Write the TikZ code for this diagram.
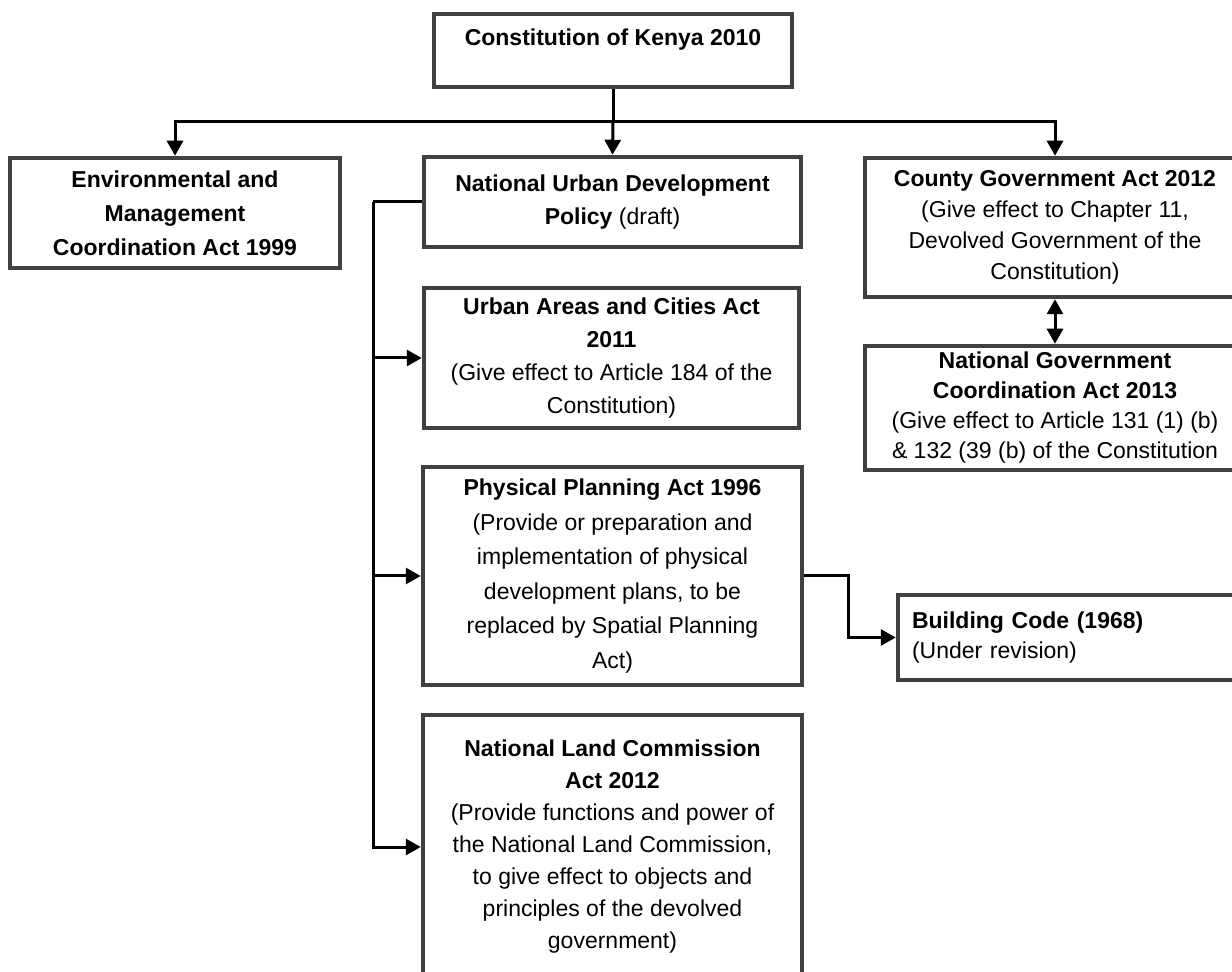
\documentclass[tikz,border=0pt]{standalone}
\usepackage{fontspec}
\setmainfont{Liberation Sans}
\usepackage{tikz}
\usetikzlibrary{arrows.meta, positioning}
\usepackage{xcolor}
\definecolor{boxgray}{RGB}{64,64,64}
\tikzstyle{act}   = [rectangle, draw=boxgray, line width=2.25pt, fill=white,
                     text centered, align=center, inner sep=2pt,
                     font=\fontsize{11.5}{16}\selectfont]
\tikzstyle{link}  = [line width=1.5pt, black]
\tikzstyle{arrow} = [line width=1.5pt, black, ->, >={Triangle[length=7.5pt,width=8pt]}]

\begin{document}
\begin{tikzpicture}[x=0.5pt, y=-0.5pt]
  \clip (0,0) rectangle (1232,972);
  \fill[white] (0,0) rectangle (1232,972);

  % top level
  \node (constitution) [act, minimum width=179pt, minimum height=36.5pt,
                   font=\fontsize{11.5}{13}\selectfont] at (613,50.5)
        {\textbf{Constitution of Kenya 2010}\\ \mbox{}};
  \node (ema)     [act, minimum width=165pt, minimum height=55pt,
                   font=\fontsize{11.5}{17}\selectfont] at (175,213)
        {\textbf{Environmental and}\\ \textbf{Management}\\ \textbf{Coordination Act 1999}};
  \node (nudp)    [act, minimum width=188.5pt, minimum height=45pt,
                   font=\fontsize{11.5}{16.5}\selectfont] at (612.5,202)
        {\textbf{National Urban Development}\\ \textbf{Policy} (draft)};
  \node (county)  [act, minimum width=190pt, minimum height=69.5pt,
                   font=\fontsize{11.5}{15.5}\selectfont] at (1055,227.5)
        {\textbf{County Government Act 2012}\\ (Give effect to Chapter 11,\\
         Devolved Government of the\\ Constitution)};
  \node (natgov)  [act, minimum width=190pt, minimum height=62pt,
                   font=\fontsize{11.5}{15}\selectfont] at (1055,408)
        {\textbf{National Government}\\ \textbf{Coordination Act 2013}\\
         (Give effect to Article 131 (1) (b)\\ \& 132 (39 (b) of the Constitution};

  % acts under the urban policy
  \node (urban)   [act, minimum width=187.5pt, minimum height=70pt,
                   font=\fontsize{11.5}{16.5}\selectfont] at (611.5,358)
        {\textbf{Urban Areas and Cities Act}\\ \textbf{2011}\\
         (Give effect to Article 184 of the\\ Constitution)};
  \node (planning) [act, minimum width=189.5pt, minimum height=109pt,
                   font=\fontsize{11.5}{17.25}\selectfont] at (612.5,576)
        {\textbf{Physical Planning Act 1996}\\ (Provide or preparation and\\
         implementation of physical\\ development plans, to be\\
         replaced by Spatial Planning\\ Act)};
  \node (landcomm) [act, minimum width=189.5pt, minimum height=132pt] at (612.5,847)
        {\textbf{National Land Commission}\\ \textbf{Act 2012}\\
         (Provide functions and power of\\ the National Land Commission,\\
         to give effect to objects and\\ principles of the devolved\\ government)};
  \node (building) [act, minimum height=42.5pt, text width=161.5pt, inner xsep=7pt,
                   align=left, font=\fontsize{11.5}{15}\selectfont] at (1073.5,637.5)
        {\textbf{Building Code (1968)}\\ (Under revision)};

  % connectors
  \coordinate (split) at (613,122);
  \coordinate (spine) at (373,202);
  \coordinate (bend)  at (848,576);
  \draw[link]  (constitution) -- (split);
  \draw[arrow] (split) -| (ema.north);
  \draw[arrow] (split) -- (nudp.north);
  \draw[arrow] (split) -| (county.north);
  \draw[arrow, <->] (county.south) -- (natgov.north);
  \draw[link]  (nudp.west) -- (spine);
  \draw[arrow] (spine) |- (urban.west);
  \draw[arrow] (spine) |- (planning.west);
  \draw[arrow] (spine) |- (landcomm.west);
  \draw[arrow] (planning.east) -- (bend) |- (building.west);
\end{tikzpicture}
\end{document}
